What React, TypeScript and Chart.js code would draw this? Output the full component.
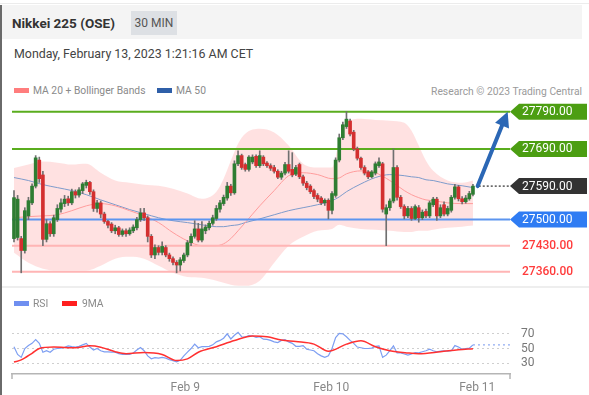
import React, { useEffect, useRef } from "react";
import { Chart, registerables } from "chart.js";

Chart.register(...registerables);
Chart.defaults.font.family = "Roboto, Arial, sans-serif";

// ---------------- data ----------------
const opens = [
  27449, 27452, 27449, 27417, 27510, 27545, 27590, 27660, 27620, 27447,
  27489, 27462, 27500, 27528, 27543, 27556, 27545, 27575, 27566, 27578,
  27592, 27600, 27575, 27530, 27545, 27515, 27495, 27488, 27470, 27478,
  27460, 27470, 27462, 27470, 27478, 27500, 27518, 27505, 27455, 27405,
  27425, 27412, 27425, 27405, 27395, 27385, 27378, 27390, 27405, 27438,
  27455, 27475, 27445, 27470, 27478, 27490, 27503, 27528, 27543, 27558,
  27590, 27572, 27650, 27672, 27648, 27635, 27655, 27670, 27645, 27668,
  27652, 27645, 27640, 27630, 27614, 27625, 27648, 27635, 27622, 27648,
  27615, 27598, 27590, 27578, 27565, 27558, 27545, 27552, 27525, 27565,
  27660, 27720, 27750, 27765, 27735, 27690, 27665, 27640, 27628, 27615,
  27625, 27645, 27650, 27515, 27532, 27550, 27640, 27560, 27535, 27510,
  27530, 27503, 27532, 27505, 27522, 27510, 27540, 27555, 27510, 27540,
  27515, 27525, 27560, 27588, 27556, 27548, 27556, 27568,
];
const highs = [
  27578, 27565, 27455, 27532, 27560, 27596, 27672, 27668, 27630, 27500,
  27495, 27512, 27540, 27556, 27565, 27563, 27582, 27580, 27586, 27600,
  27606, 27603, 27580, 27552, 27550, 27520, 27498, 27492, 27485, 27482,
  27475, 27475, 27478, 27486, 27506, 27530, 27530, 27510, 27460, 27432,
  27430, 27440, 27430, 27410, 27400, 27390, 27398, 27410, 27444, 27462,
  27497, 27490, 27495, 27486, 27496, 27512, 27538, 27552, 27566, 27600,
  27595, 27658, 27685, 27676, 27652, 27672, 27674, 27674, 27685, 27672,
  27656, 27650, 27646, 27634, 27630, 27654, 27685, 27680, 27646, 27652,
  27620, 27603, 27594, 27582, 27570, 27562, 27556, 27556, 27575, 27666,
  27730, 27762, 27790, 27770, 27740, 27695, 27668, 27645, 27632, 27632,
  27655, 27666, 27654, 27540, 27556, 27690, 27645, 27565, 27540, 27536,
  27535, 27540, 27538, 27526, 27528, 27550, 27560, 27560, 27540, 27548,
  27536, 27565, 27595, 27592, 27562, 27565, 27576, 27595,
];
const lows = [
  27440, 27445, 27357, 27410, 27500, 27540, 27585, 27600, 27430, 27440,
  27455, 27455, 27495, 27520, 27535, 27538, 27540, 27558, 27560, 27570,
  27585, 27568, 27522, 27520, 27505, 27490, 27478, 27465, 27462, 27455,
  27455, 27455, 27458, 27465, 27472, 27495, 27498, 27440, 27398, 27395,
  27405, 27405, 27400, 27388, 27378, 27357, 27362, 27385, 27400, 27430,
  27450, 27440, 27440, 27462, 27472, 27485, 27498, 27520, 27538, 27552,
  27565, 27568, 27645, 27635, 27630, 27630, 27650, 27640, 27640, 27645,
  27640, 27632, 27625, 27610, 27608, 27620, 27625, 27615, 27618, 27610,
  27592, 27580, 27570, 27556, 27548, 27540, 27538, 27502, 27515, 27560,
  27655, 27715, 27745, 27725, 27685, 27660, 27635, 27620, 27610, 27612,
  27620, 27640, 27520, 27430, 27525, 27545, 27552, 27530, 27502, 27505,
  27498, 27500, 27493, 27500, 27505, 27505, 27535, 27498, 27505, 27510,
  27510, 27520, 27555, 27550, 27542, 27544, 27552, 27564,
];
const closes = [
  27559, 27555, 27417, 27524, 27551, 27590, 27666, 27610, 27447, 27489,
  27462, 27505, 27530, 27545, 27555, 27545, 27575, 27566, 27580, 27596,
  27600, 27575, 27530, 27545, 27515, 27495, 27485, 27470, 27478, 27460,
  27470, 27462, 27472, 27480, 27500, 27518, 27505, 27455, 27405, 27425,
  27412, 27428, 27405, 27395, 27385, 27378, 27392, 27405, 27438, 27455,
  27475, 27445, 27475, 27480, 27490, 27505, 27530, 27545, 27560, 27590,
  27572, 27650, 27672, 27640, 27635, 27668, 27668, 27645, 27672, 27650,
  27645, 27638, 27630, 27614, 27625, 27648, 27630, 27620, 27640, 27615,
  27598, 27586, 27575, 27562, 27555, 27545, 27552, 27525, 27570, 27660,
  27720, 27755, 27770, 27730, 27690, 27665, 27640, 27625, 27615, 27628,
  27650, 27655, 27528, 27532, 27550, 27640, 27560, 27535, 27510, 27530,
  27503, 27535, 27505, 27520, 27510, 27545, 27555, 27510, 27532, 27515,
  27530, 27560, 27588, 27556, 27548, 27558, 27570, 27590,
];

// sample positions (candle index) for the indicator lines
const bandX = [0, 4, 8, 12, 16, 20, 24, 28, 32, 36, 40, 44, 48, 52, 56, 58, 60, 62, 64, 68, 72, 76, 80, 84, 88, 90, 92, 96, 100, 104, 108, 110, 112, 114, 116, 120, 124, 127];
const bandUpper = [27639, 27648, 27656, 27653, 27648, 27650, 27626, 27605, 27599, 27594, 27591, 27583, 27570, 27556, 27575, 27610, 27658, 27704, 27731, 27744, 27734, 27699, 27650, 27640, 27640, 27712, 27760, 27771, 27768, 27766, 27760, 27739, 27699, 27658, 27631, 27605, 27599, 27605];
const bandMid = [27505, 27508, 27510, 27513, 27524, 27537, 27543, 27537, 27524, 27510, 27492, 27465, 27443, 27430, 27430, 27435, 27449, 27470, 27492, 27537, 27578, 27618, 27626, 27621, 27610, 27612, 27623, 27631, 27626, 27605, 27578, 27567, 27559, 27553, 27551, 27545, 27543, 27543];
const bandLower = [27411, 27384, 27368, 27363, 27363, 27363, 27376, 27395, 27400, 27395, 27376, 27357, 27346, 27344, 27336, 27330, 27325, 27322, 27322, 27336, 27384, 27430, 27454, 27470, 27475, 27486, 27481, 27475, 27473, 27470, 27467, 27467, 27470, 27470, 27473, 27478, 27481, 27484];
const ma50 = [27613, 27605, 27594, 27586, 27578, 27567, 27553, 27540, 27527, 27516, 27505, 27497, 27492, 27486, 27481, 27481, 27484, 27486, 27492, 27502, 27513, 27524, 27532, 27540, 27551, 27561, 27575, 27596, 27613, 27621, 27618, 27615, 27613, 27607, 27605, 27596, 27591, 27586];

const resistances = [27790, 27690];
const lastPrice = 27590;
const pivot = 27500;
const supports = [27430, 27360];
const arrowX = [128.3, 136.6];
const arrowY = [27590, 27790];

const rsi = [
  52.5, 42, 38, 50, 54, 57, 62, 57, 45, 47,
  45, 49, 50, 50.5, 51.5, 53.5, 52.5, 52, 53, 55,
  57, 52, 48, 50, 47, 45.5, 45.5, 45, 45, 43,
  42, 42.5, 42, 44, 48, 51.4, 47, 40, 36, 37.5,
  37, 38, 37, 35, 33.5, 32, 34, 40, 45, 50,
  56, 51, 52.5, 52.5, 53, 55, 59, 61, 64, 70,
  63, 68, 72, 66, 65.5, 67.6, 67, 65, 66, 62.7,
  62.5, 61, 59, 58, 61, 62, 59, 57, 53, 53,
  54, 49, 48, 47, 43, 40, 38, 40, 50, 65,
  70.5, 70, 66, 61, 57, 52, 51, 50, 50, 50.5,
  53, 53.6, 38, 41, 47, 53.6, 44, 44, 42.5, 41,
  42.5, 44.6, 44, 45.6, 47, 49, 47, 45.6, 46.5, 47,
  46.5, 47, 54, 52, 49, 50, 50.5, 55,
];
const ma9X = [0, 2, 5, 7, 11, 17, 21, 24, 28, 31, 36, 41, 45, 48, 51, 56, 61, 66, 70, 74, 78, 83, 87, 92, 96, 100, 104, 109, 112, 118, 123, 127];
const ma9 = [31.6, 34.5, 43.5, 50, 52, 51, 53.6, 51.8, 45.6, 43, 44.6, 42, 33.8, 36, 45, 52.5, 60.9, 67, 66, 61.6, 59.5, 56, 46.3, 56, 60.5, 52.5, 47, 44, 43, 45.6, 48.3, 49.7];
const rsiTicks = [30, 50, 70];

const xTickPos = [47.4, 87.8, 128.2];
const xTickLabels = ["Feb 9", "Feb 10", "Feb 11"];

// ---------------- chart settings ----------------
const X_MIN = -0.55;
const X_MAX = 137.25;
const GREEN = "#2e7d32";
const RED = "#d32f2f";

const pts = (xs: number[], ys: number[]) => xs.map((x, k) => ({ x, y: ys[k] }));
const hline = (v: number, from = X_MIN) => [
  { x: from, y: v },
  { x: X_MAX, y: v },
];

function lineDs(data: any[], color: string, width: number, order: number, extra: any = {}) {
  return {
    type: "line",
    data,
    borderColor: color,
    borderWidth: width,
    pointRadius: 0,
    fill: false,
    order,
    ...extra,
  };
}

function drawTag(ctx: CanvasRenderingContext2D, x0: number, x1: number, y: number, text: string, bg: string) {
  const h = 16;
  ctx.save();
  ctx.beginPath();
  ctx.moveTo(x0, y);
  ctx.lineTo(x0 + 9, y - h / 2);
  ctx.lineTo(x1, y - h / 2);
  ctx.lineTo(x1, y + h / 2);
  ctx.lineTo(x0 + 9, y + h / 2);
  ctx.closePath();
  ctx.fillStyle = bg;
  ctx.fill();
  ctx.fillStyle = "#ffffff";
  ctx.font = "12px Roboto, Arial, sans-serif";
  ctx.textAlign = "left";
  ctx.textBaseline = "middle";
  ctx.fillText(text, x0 + 12, y + 0.5);
  ctx.restore();
}

const mainDeco = {
  id: "mainDeco",
  afterDatasetsDraw(chart: any) {
    const { ctx, scales } = chart;
    const x0 = scales.x.getPixelForValue(arrowX[0]);
    const y0 = scales.y.getPixelForValue(arrowY[0]);
    const x1 = scales.x.getPixelForValue(arrowX[1]);
    const y1 = scales.y.getPixelForValue(arrowY[1]);
    const ang = Math.atan2(y1 - y0, x1 - x0);
    const head = 15;
    const hw = 7.5;
    const bx = x1 - head * Math.cos(ang);
    const by = y1 - head * Math.sin(ang);
    ctx.save();
    ctx.strokeStyle = "#2b67b5";
    ctx.fillStyle = "#2b67b5";
    ctx.lineWidth = 4;
    ctx.lineCap = "round";
    ctx.beginPath();
    ctx.moveTo(x0, y0);
    ctx.lineTo(bx, by);
    ctx.stroke();
    ctx.beginPath();
    ctx.moveTo(x1, y1);
    ctx.lineTo(bx + hw * Math.sin(ang), by - hw * Math.cos(ang));
    ctx.lineTo(bx - hw * Math.sin(ang), by + hw * Math.cos(ang));
    ctx.closePath();
    ctx.fill();
    ctx.restore();
  },
  afterDraw(chart: any) {
    const { ctx, scales, chartArea } = chart;
    const x0 = chartArea.right;
    const x1 = x0 + 77;
    resistances.forEach((v) => drawTag(ctx, x0, x1, scales.y.getPixelForValue(v), v.toFixed(2), "#4c9e12"));
    drawTag(ctx, x0, x1, scales.y.getPixelForValue(lastPrice), lastPrice.toFixed(2), "#333333");
    drawTag(ctx, x0, x1, scales.y.getPixelForValue(pivot), pivot.toFixed(2), "#2f7cf3");
    ctx.save();
    ctx.fillStyle = "#ff3b3b";
    ctx.font = "500 12px Roboto, Arial, sans-serif";
    ctx.textAlign = "left";
    ctx.textBaseline = "middle";
    supports.forEach((v) => ctx.fillText(v.toFixed(2), x0 + 12, scales.y.getPixelForValue(v) + 0.5));
    ctx.restore();
  },
};

const rsiDeco = {
  id: "rsiDeco",
  afterDraw(chart: any) {
    const { ctx, chartArea } = chart;
    ctx.save();
    ctx.strokeStyle = "#b5b5b5";
    ctx.lineWidth = 1.5;
    [chartArea.left, chartArea.right].forEach((x: number) => {
      ctx.beginPath();
      ctx.moveTo(x, chartArea.bottom);
      ctx.lineTo(x, chartArea.bottom + 5);
      ctx.stroke();
    });
    ctx.restore();
  },
};

function mainConfig(): any {
  const bodies = closes.map((c, i) => ({ x: i, y: [opens[i], c] }));
  const wicks = closes.map((_, i) => ({ x: i, y: [lows[i], highs[i]] }));
  const bodyColors = closes.map((c, i) => (c >= opens[i] ? GREEN : RED));
  return {
    type: "line",
    data: {
      datasets: [
        lineDs(pts(bandX, bandUpper), "rgba(0,0,0,0)", 0, 8, {
          fill: "+1",
          backgroundColor: "rgba(255,200,200,0.55)",
          cubicInterpolationMode: "monotone",
        }),
        lineDs(pts(bandX, bandLower), "rgba(0,0,0,0)", 0, 8, { cubicInterpolationMode: "monotone" }),
        lineDs(pts(bandX, bandMid), "#ff9c9c", 1, 5, { cubicInterpolationMode: "monotone" }),
        lineDs(pts(bandX, ma50), "#7e9bcb", 1, 5, { cubicInterpolationMode: "monotone" }),
        ...resistances.map((v) => lineDs(hline(v), "#5aad1e", 2, 4)),
        lineDs(hline(pivot), "#5d95ef", 2, 4),
        ...supports.map((v) => lineDs(hline(v), "#ffb5b5", 2, 4)),
        lineDs(hline(lastPrice, 128.6), "#555555", 1.5, 4, { borderDash: [2, 2] }),
        {
          type: "bar",
          data: wicks,
          backgroundColor: "#707070",
          barThickness: 1,
          grouped: false,
          order: 1,
        },
        {
          type: "bar",
          data: bodies,
          backgroundColor: bodyColors,
          barThickness: 3,
          minBarLength: 1,
          grouped: false,
          order: 0,
        },
      ],
    },
    options: {
      responsive: false,
      animation: false,
      events: [],
      layout: { padding: { left: 12, right: 79, top: 2, bottom: 3 } },
      plugins: { legend: { display: false }, tooltip: { enabled: false } },
      scales: {
        x: { type: "linear", min: X_MIN, max: X_MAX, display: false, offset: false },
        y: { type: "linear", min: 27318.9, max: 27829.5, display: false },
      },
    },
    plugins: [mainDeco],
  };
}

function rsiConfig(): any {
  const last = rsi[rsi.length - 1];
  return {
    type: "line",
    data: {
      datasets: [
        lineDs(rsi.map((v, i) => ({ x: i, y: v })), "#7d9ef2", 1.2, 1),
        lineDs(pts(ma9X, ma9), "#ff3030", 1.5, 0, { cubicInterpolationMode: "monotone" }),
        lineDs(hline(last, rsi.length - 1), "#8faaf2", 1.2, 2, { borderDash: [2, 3] }),
      ],
    },
    options: {
      responsive: false,
      animation: false,
      events: [],
      layout: { padding: { left: 12, right: 0, top: 8, bottom: 0 } },
      plugins: { legend: { display: false }, tooltip: { enabled: false } },
      scales: {
        x: {
          type: "linear",
          min: X_MIN,
          max: X_MAX,
          position: "bottom",
          afterBuildTicks: (s: any) => {
            s.ticks = xTickPos.map((v) => ({ value: v }));
          },
          afterFit: (s: any) => {
            s.height = 21;
          },
          ticks: {
            autoSkip: false,
            maxRotation: 0,
            padding: 7,
            color: "#888888",
            font: { size: 12 },
            callback: (_v: any, i: number) => xTickLabels[i],
          },
          grid: { display: false, drawTicks: false },
          border: { display: true, color: "#b5b5b5", width: 1.5 },
        },
        y: {
          type: "linear",
          position: "right",
          min: 15.4,
          max: 77.6,
          afterBuildTicks: (s: any) => {
            s.ticks = rsiTicks.map((v) => ({ value: v }));
          },
          afterFit: (s: any) => {
            s.width = 79;
          },
          ticks: { padding: 11, color: "#777777", font: { size: 12 }, callback: (v: any) => String(v) },
          grid: { color: "#cfcfcf", lineWidth: 1, drawTicks: false },
          border: { display: false, dash: [2, 3] },
        },
      },
    },
    plugins: [rsiDeco],
  };
}

const txt = (extra: React.CSSProperties): React.CSSProperties => ({
  position: "absolute",
  whiteSpace: "nowrap",
  ...extra,
});

export default function App() {
  const mainRef = useRef<HTMLCanvasElement>(null);
  const rsiRef = useRef<HTMLCanvasElement>(null);

  useEffect(() => {
    document.body.style.margin = "0";
    const c1 = new Chart(mainRef.current as HTMLCanvasElement, mainConfig());
    const c2 = new Chart(rsiRef.current as HTMLCanvasElement, rsiConfig());
    return () => {
      c1.destroy();
      c2.destroy();
    };
  }, []);

  return (
    <div
      style={{
        position: "relative",
        width: 589,
        height: 395,
        overflow: "hidden",
        background: "#ffffff",
        fontFamily: "Roboto, Arial, sans-serif",
      }}
    >
      <div style={txt({ left: 0, top: 3, width: 589, height: 1, background: "#ececec" })} />
      <div style={txt({ left: 2, top: 5, width: 580, height: 34, background: "#f4f4f4" })} />
      <div style={txt({ left: 0, top: 5, width: 2, height: 390, background: "#6a6a6a" })} />
      <div style={txt({ left: 12, top: 15, fontSize: 13.5, fontWeight: 700, color: "#333", lineHeight: "16px" })}>
        Nikkei 225 (OSE)
      </div>
      <div
        style={txt({
          left: 131,
          top: 11,
          width: 46,
          height: 24,
          background: "#dde0e4",
          color: "#555",
          fontSize: 12,
          lineHeight: "24px",
          textAlign: "center",
        })}
      >
        30 MIN
      </div>
      <div style={txt({ left: 14, top: 46, fontSize: 12.4, color: "#444", lineHeight: "15px" })}>
        Monday, February 13, 2023 1:21:16 AM CET
      </div>

      <div style={txt({ left: 14, top: 88, width: 15, height: 5, background: "#ff7d7d" })} />
      <div style={txt({ left: 33, top: 84, fontSize: 10.3, color: "#8a8a8a", lineHeight: "13px" })}>
        MA 20 + Bollinger Bands
      </div>
      <div style={txt({ left: 157, top: 88, width: 15, height: 5, background: "#2f5fa8" })} />
      <div style={txt({ left: 176, top: 84, fontSize: 10.3, color: "#8a8a8a", lineHeight: "13px" })}>MA 50</div>
      <div style={txt({ right: 7, top: 85, fontSize: 10.3, color: "#9a9a9a", lineHeight: "13px" })}>
        Research © 2023 Trading Central
      </div>

      <canvas ref={mainRef} width={589} height={195} style={{ position: "absolute", left: 0, top: 95 }} />

      <div style={txt({ left: 2, top: 286, width: 587, height: 2, background: "#eeeeee" })} />

      <div style={txt({ left: 14, top: 301, width: 15, height: 5, background: "#6f8ff0" })} />
      <div style={txt({ left: 33, top: 297, fontSize: 10.3, color: "#8a8a8a", lineHeight: "13px" })}>RSI</div>
      <div style={txt({ left: 62, top: 301, width: 15, height: 5, background: "#ff2020" })} />
      <div style={txt({ left: 82, top: 297, fontSize: 10.3, color: "#8a8a8a", lineHeight: "13px" })}>9MA</div>

      <canvas ref={rsiRef} width={589} height={85} style={{ position: "absolute", left: 0, top: 310 }} />
    </div>
  );
}
